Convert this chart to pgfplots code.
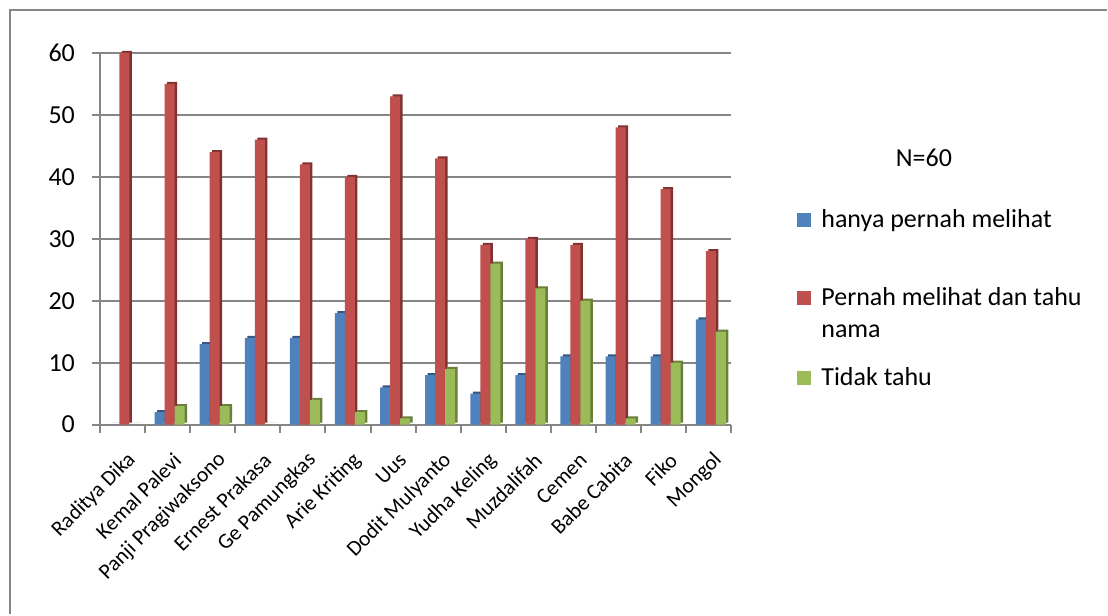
\documentclass[border=0pt]{standalone}
\usepackage{pgfplots}
\pgfplotsset{compat=1.18}
\usepackage{fontspec}
\setmainfont{Carlito}
\definecolor{bl}{RGB}{79,129,189}
\definecolor{bld}{RGB}{52,86,128}
\definecolor{rd}{RGB}{192,80,77}
\definecolor{rdd}{RGB}{128,50,48}
\definecolor{gr}{RGB}{155,187,89}
\definecolor{grd}{RGB}{105,128,58}
\definecolor{gridc}{RGB}{134,134,134}
\newcommand{\fs}{\fontsize{13}{16}\selectfont}
\pgfplotsset{
  sqleg/.style={legend image code/.code={\fill[##1] (0pt,-3.5pt) rectangle (7pt,3.5pt);}},
  sqlegup/.style={legend image code/.code={\fill[##1] (0pt,4.5pt) rectangle (7pt,11.5pt);}},
}
\begin{document}
\begin{tikzpicture}[x=1pt,y=1pt]
\path (0,0) rectangle (554,307.5);
\draw[gridc, line width=1pt] (5,0) -- (5,302.5) -- (554,302.5);
\begin{axis}[
  at={(50pt,95pt)}, anchor=south west,
  width=316pt, height=186pt, scale only axis,
  xmin=-0.5, xmax=13.5, ymin=0, ymax=60,
  ytick={0,10,...,60},
  xtick={-0.5,0.5,...,13.5},
  x tick label as interval,
  xticklabels={Raditya Dika,Kemal Palevi,Panji Pragiwaksono,Ernest Prakasa,Ge Pamungkas,Arie Kriting,Uus,Dodit Mulyanto,Yudha Keling,Muzdalifah,Cemen,Babe Cabita,Fiko,Mongol},
  axis x line*=bottom, axis y line*=left,
  axis line style={-, gridc, line width=1pt},
  ymajorgrids, major grid style={gridc, line width=1pt},
  tick align=outside, major tick length=4pt,
  tick style={gridc, line width=1pt},
  /pgf/number format/assume math mode=true,
  y tick label style={font=\fs, xshift=-5pt},
  x tick label style={font=\fontsize{10.8}{13}\selectfont, inner sep=0pt, xshift=5pt, yshift=-12pt, rotate=45, anchor=east},
  clip=false,
  legend style={draw=none, fill=none, at={(axis description cs:1.104,0.586)}, anchor=north west,
    font=\fs, row sep=11.5pt, column sep=4pt, inner sep=0pt, cells={align=left}, nodes={inner sep=1pt}},
  legend cell align=left,
  ybar, bar width=5pt,
]
% blue
\addplot[draw=none, fill=bld, bar shift=-2.75pt, yshift=1pt, forget plot] coordinates {(0,0) (1,2) (2,13) (3,14) (4,14) (5,18) (6,6) (7,8) (8,5) (9,8) (10,11) (11,11) (12,11) (13,17)};
\addplot[draw=none, fill=bl, bar shift=-4pt, sqleg] coordinates {(0,0) (1,2) (2,13) (3,14) (4,14) (5,18) (6,6) (7,8) (8,5) (9,8) (10,11) (11,11) (12,11) (13,17)};
\addlegendentry{hanya pernah melihat}
\addlegendimage{empty legend}
\addlegendentry{\mbox{}}
% red
\addplot[draw=none, fill=rdd, bar shift=2.25pt, yshift=1pt, forget plot] coordinates {(0,60) (1,55) (2,44) (3,46) (4,42) (5,40) (6,53) (7,43) (8,29) (9,30) (10,29) (11,48) (12,38) (13,28)};
\addplot[draw=none, fill=rd, bar shift=1pt, sqlegup] coordinates {(0,60) (1,55) (2,44) (3,46) (4,42) (5,40) (6,53) (7,43) (8,29) (9,30) (10,29) (11,48) (12,38) (13,28)};
\addlegendentry{Pernah melihat dan tahu\\nama}
% green
\addplot[draw=none, fill=grd, bar shift=7.25pt, yshift=1pt, forget plot] coordinates {(0,0) (1,3) (2,3) (3,0) (4,4) (5,2) (6,1) (7,9) (8,26) (9,22) (10,20) (11,1) (12,10) (13,15)};
\addplot[draw=none, fill=gr, bar shift=6pt, sqleg] coordinates {(0,0) (1,3) (2,3) (3,0) (4,4) (5,2) (6,1) (7,9) (8,26) (9,22) (10,20) (11,1) (12,10) (13,15)};
\addlegendentry{Tidak tahu}
\node[font=\fs] at (rel axis cs:1.305,0.718) {N=60};
\end{axis}
\end{tikzpicture}
\end{document}
